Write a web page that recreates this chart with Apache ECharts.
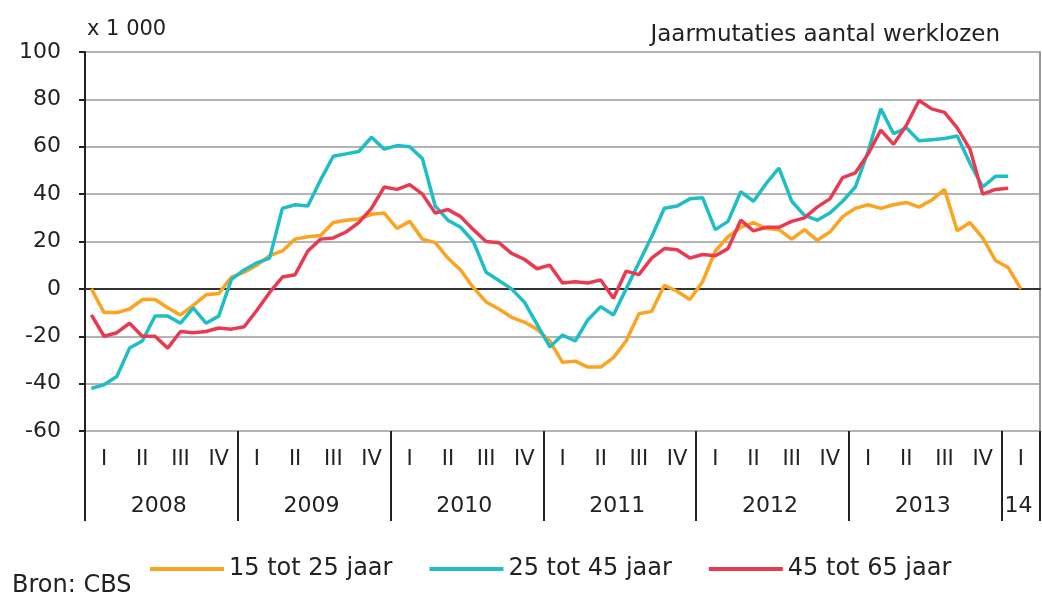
<!DOCTYPE html>
<html>
<head>
<meta charset="utf-8">
<script src="https://cdn.jsdelivr.net/npm/echarts@6/dist/echarts.min.js"></script>
<style>
  html, body { margin: 0; padding: 0; background: #fff; }
  #chart { width: 1042px; height: 595px; }
</style>
</head>
<body>
<div id="chart"></div>
<script>
// maanden jan 2008 t/m mrt 2014
var years = ['2008', '2009', '2010', '2011', '2012', '2013', '2014'];
var monthsPerYear = [12, 12, 12, 12, 12, 12, 3];
var quarterLabels = ['I', 'II', 'III', 'IV'];
var yearLabels = ['2008', '2009', '2010', '2011', '2012', '2013', '14'];
var seriesNames = ['15 tot 25 jaar', '25 tot 45 jaar', '45 tot 65 jaar'];

// x 1 000
var jong = [0, -10, -10, -8.5, -4.5, -4.5, -8, -11, -7, -2.5, -2, 5,
  7, 10, 14, 16, 21, 22, 22.5, 28, 29, 29.5, 31.5, 32,
  25.5, 28.5, 21, 19.5, 13, 8, 0.5, -5.5, -8.5, -12, -14, -17,
  -22, -31, -30.5, -33, -33, -29, -22, -10.5, -9.5, 1.5, -1, -4.5,
  3, 16, 22, 26, 28, 25.5, 25, 21, 25, 20.5, 24, 30.5,
  34, 35.5, 34, 35.5, 36.5, 34.5, 37.5, 42, 24.5, 28, 21.5, 12,
  9, 0];
var midden = [-42, -40.5, -37, -25, -22, -11.5, -11.5, -14.5, -8, -14.5, -11.5, 4,
  8, 11, 13, 34, 35.5, 35, 46, 56, 57, 58, 64, 59,
  60.5, 60, 55, 35, 29, 26, 20, 7, 3.5, 0, -5.5, -15,
  -24.5, -19.5, -22, -13, -7.5, -11, 0, 11, 22, 34, 35, 38,
  38.5, 25, 28.5, 41, 37, 44.5, 51, 37, 31, 29, 32, 37,
  43, 58, 76, 65.5, 68, 62.5, 63, 63.5, 64.5, 53, 43, 47.5,
  47.5];
var oud = [-11, -20, -18.5, -14.5, -20, -20, -25, -18, -18.5, -18, -16.5, -17,
  -16, -9, -1.5, 5, 6, 16, 21, 21.5, 24, 28, 34, 43,
  42, 44, 40, 32, 33.5, 30.5, 25, 20, 19.5, 15, 12.5, 8.5,
  10, 2.5, 3, 2.5, 3.8, -4, 7.5, 6, 13, 17, 16.5, 13,
  14.5, 14, 17, 29, 24.5, 26, 26, 28.5, 30, 34.5, 38, 47,
  49, 57, 67, 61, 69, 79.5, 76, 74.5, 68, 59, 40, 42,
  42.5];

var months = [];
years.forEach(function (y, k) {
  for (var m = 1; m <= monthsPerYear[k]; m++) months.push(y + '-' + m);
});

var font = 'DejaVu Sans';
var myChart = echarts.init(document.getElementById('chart'));
var option = {
  animation: false,
  textStyle: { fontFamily: font },
  title: [
    { text: 'x 1 000', left: 82, top: 14, textStyle: { fontFamily: font, fontSize: 21, fontWeight: 'normal', color: '#222' } },
    { text: 'Jaarmutaties aantal werklozen', right: 37, top: 19, textStyle: { fontFamily: font, fontSize: 23, fontWeight: 'normal', color: '#222' } },
    { text: 'Bron: CBS', left: 7, top: 569, textStyle: { fontFamily: font, fontSize: 24, fontWeight: 'normal', color: '#222' } }
  ],
  legend: {
    left: 145, top: 552,
    icon: 'rect', itemWidth: 74, itemHeight: 4, itemGap: 37,
    textStyle: { fontFamily: font, fontSize: 24, color: '#222' },
    data: seriesNames
  },
  grid: { left: 85, right: 2, top: 52, bottom: 164, containLabel: false, outerBoundsMode: 'none' },
  xAxis: [
    {
      type: 'category', data: months, boundaryGap: true, position: 'bottom',
      axisLine: { show: false, onZero: false },
      axisTick: { show: true, interval: function (i) { return i % 12 === 0; }, length: 90, lineStyle: { color: '#222', width: 2 } },
      axisLabel: {
        interval: function (i) { return i % 3 === 1; },
        formatter: function (v, i) { return quarterLabels[Math.floor((i % 12) / 3)]; },
        margin: 18, fontSize: 21, color: '#222', fontFamily: font
      },
      splitLine: { show: false }
    },
    {
      type: 'category', data: months, boundaryGap: true, position: 'bottom', offset: 56,
      axisLine: { show: false, onZero: false },
      axisTick: { show: false },
      axisLabel: {
        interval: function (i) { return (i % 12 === 6 && i < 72) || i === 73; },
        formatter: function (v, i) {
          return i === 73 ? '{s|' + yearLabels[6] + '}' : '{y|' + yearLabels[Math.floor(i / 12)] + '}';
        },
        rich: {
          y: { fontSize: 22, color: '#222', fontFamily: font, padding: [0, 18, 0, 0] },
          s: { fontSize: 22, color: '#222', fontFamily: font, padding: [0, 5, 0, 0] }
        }
      }
    },
    {
      type: 'category', data: months, boundaryGap: true, position: 'bottom',
      axisLine: { show: true, onZero: true, lineStyle: { color: '#333', width: 2 } },
      axisTick: { show: false }, axisLabel: { show: false }
    }
  ],
  yAxis: [
    {
      type: 'value', min: -60, max: 100, interval: 20,
      axisLine: { show: true, lineStyle: { color: '#222', width: 2 } },
      axisTick: { show: true, length: 6, lineStyle: { color: '#222', width: 2 } },
      axisLabel: { margin: 24, fontSize: 22, color: '#222', fontFamily: font },
      splitLine: { show: true, lineStyle: { color: '#b4b4b4', width: 2 } }
    },
    {
      type: 'value', position: 'right', min: -60, max: 100, interval: 20,
      axisLine: { show: true, lineStyle: { color: '#999', width: 2 } },
      axisTick: { show: false }, axisLabel: { show: false }, splitLine: { show: false }
    }
  ],
  series: [
    { name: seriesNames[0], type: 'line', data: jong, symbol: 'none', color: '#fca41f', lineStyle: { width: 3.5, color: '#fca41f' } },
    { name: seriesNames[1], type: 'line', data: midden, symbol: 'none', color: '#1fbec6', lineStyle: { width: 3.5, color: '#1fbec6' } },
    { name: seriesNames[2], type: 'line', data: oud, symbol: 'none', color: '#e83a50', lineStyle: { width: 3.5, color: '#e83a50' } }
  ]
};
option && myChart.setOption(option);
</script>
</body>
</html>
